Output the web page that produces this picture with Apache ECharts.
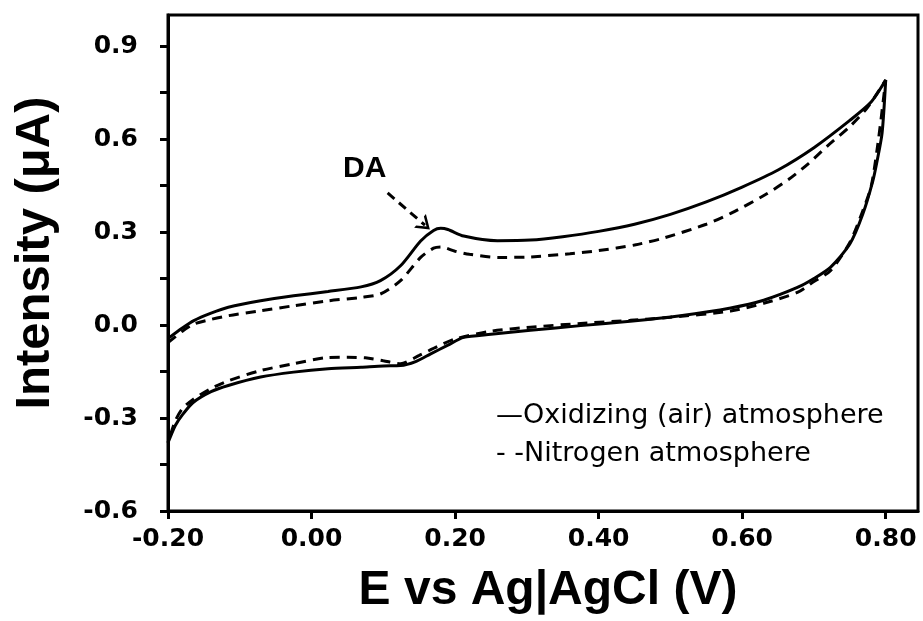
<!DOCTYPE html>
<html>
<head>
<meta charset="utf-8">
<script src="https://cdn.jsdelivr.net/npm/echarts@6/dist/echarts.min.js"></script>
<style>
html,body{margin:0;padding:0;background:#fff;}
#chart{width:923px;height:621px;}
</style>
</head>
<body>
<div id="chart"></div>
<script>
// Oxidizing (air) atmosphere: forward scan (-0.2 -> 0.8) then reverse scan (0.8 -> -0.2)
var airForwardX = [-0.2,-0.18,-0.164,-0.14,-0.116,-0.071,-0.025,0.023,0.069,0.096,0.124,0.152,0.170,0.180,0.19,0.212,0.259,0.305,0.35,0.40,0.45,0.50,0.55,0.60,0.65,0.70,0.75,0.78,0.80];
var airForwardY = [-0.044,-0.01,0.014,0.038,0.057,0.078,0.094,0.108,0.123,0.143,0.191,0.271,0.305,0.312,0.308,0.287,0.272,0.274,0.285,0.302,0.325,0.357,0.397,0.445,0.5,0.572,0.66,0.72,0.79];
var airReverseX = [0.795,0.788,0.782,0.768,0.750,0.723,0.70,0.677,0.63,0.584,0.514,0.444,0.375,0.305,0.25,0.212,0.19,0.166,0.145,0.124,0.10,0.069,0.023,-0.025,-0.071,-0.116,-0.14,-0.165,-0.18,-0.19,-0.2];
var airReverseY = [0.62,0.529,0.464,0.357,0.261,0.186,0.15,0.121,0.08,0.055,0.03,0.012,-0.002,-0.017,-0.03,-0.04,-0.065,-0.093,-0.118,-0.131,-0.132,-0.136,-0.141,-0.152,-0.168,-0.195,-0.215,-0.25,-0.29,-0.325,-0.38];

// Nitrogen atmosphere
var n2ForwardX = [-0.2,-0.18,-0.164,-0.14,-0.116,-0.071,-0.025,0.023,0.069,0.096,0.124,0.152,0.170,0.180,0.20,0.22,0.26,0.30,0.36,0.40,0.45,0.49,0.55,0.584,0.632,0.665,0.692,0.719,0.75,0.774,0.80];
var n2ForwardY = [-0.057,-0.02,0.003,0.018,0.03,0.046,0.062,0.078,0.089,0.10,0.143,0.218,0.248,0.252,0.238,0.228,0.218,0.219,0.23,0.24,0.258,0.28,0.325,0.36,0.42,0.47,0.52,0.578,0.64,0.70,0.79];
var n2ReverseX = [0.79,0.78,0.768,0.750,0.723,0.70,0.677,0.63,0.584,0.50,0.444,0.375,0.305,0.25,0.2,0.175,0.15,0.124,0.10,0.075,0.05,0.023,-0.025,-0.071,-0.116,-0.14,-0.165,-0.18,-0.19,-0.2];
var n2ReverseY = [0.6,0.45,0.368,0.266,0.175,0.14,0.105,0.07,0.045,0.025,0.015,0.005,-0.007,-0.02,-0.045,-0.07,-0.098,-0.125,-0.115,-0.106,-0.104,-0.105,-0.125,-0.147,-0.18,-0.205,-0.24,-0.27,-0.31,-0.38];

var seriesNames = ['Oxidizing (air) atmosphere', 'Nitrogen atmosphere'];
var legendLines = ['\u2014Oxidizing (air) atmosphere', '- -Nitrogen atmosphere'];
var xTickDecimals = 2;
var yTickDecimals = 1;
var annotationText = 'DA';
var annotationLabelPos = [0.074, 0.503];
var annotationArrow = [[0.106, 0.426], [0.158, 0.322]];

function pairs(xs, ys) {
  var out = [];
  for (var i = 0; i < xs.length; i++) out.push([xs[i], ys[i]]);
  return out;
}
var airData = pairs(airForwardX.concat(airReverseX), airForwardY.concat(airReverseY));
var n2Data = pairs(n2ForwardX.concat(n2ReverseX), n2ForwardY.concat(n2ReverseY));

var chart = echarts.init(document.getElementById('chart'), null, {renderer: 'canvas'});
var tickFont = {fontFamily: 'DejaVu Sans', fontWeight: 'bold', fontSize: 25, color: '#000'};

chart.setOption({
  animation: false,
  backgroundColor: '#fff',
  grid: {left: 168, right: 5, top: 15, bottom: 110, show: true, borderColor: '#000', borderWidth: 3, containLabel: false},
  xAxis: {
    type: 'value', min: -0.2, max: 0.845, interval: 0.2,
    name: 'E vs Ag|AgCl (V)', nameLocation: 'middle', nameGap: 56,
    nameTextStyle: {fontFamily: 'Liberation Sans', fontWeight: 'bold', fontSize: 48, color: '#000', padding: [0, 0, 0, 10]},
    axisLine: {show: true, onZero: false, lineStyle: {color: '#000', width: 3}},
    axisTick: {show: true, inside: false, length: 8, lineStyle: {color: '#000', width: 3}},
    axisLabel: Object.assign({margin: 16, showMaxLabel: false, formatter: function (v) { return v.toFixed(xTickDecimals); }}, tickFont),
    splitLine: {show: false}
  },
  yAxis: {
    type: 'value', min: -0.6, max: 1.0, interval: 0.15,
    name: 'Intensity (\u03bcA)', nameLocation: 'middle', nameGap: 108,
    nameTextStyle: {fontFamily: 'Liberation Sans', fontWeight: 'bold', fontSize: 49, color: '#000', padding: [0, 0, 0, 20]},
    axisLine: {show: true, onZero: false, lineStyle: {color: '#000', width: 3}},
    axisTick: {show: true, inside: false, length: 8, lineStyle: {color: '#000', width: 3}},
    axisLabel: Object.assign({margin: 30, showMaxLabel: false, formatter: function (v) {
      var k = v / 0.3;
      if (Math.abs(k - Math.round(k)) < 1e-6 && v < 0.95) return v.toFixed(yTickDecimals);
      return '';
    }}, tickFont),
    splitLine: {show: false}
  },
  series: [
    {
      name: seriesNames[0], type: 'line', data: airData, showSymbol: false, smooth: 0.25,
      lineStyle: {color: '#000', width: 3, type: 'solid'},
      markPoint: {
        symbol: 'circle', symbolSize: 1,
        itemStyle: {color: 'rgba(0,0,0,0)'},
        data: [{coord: annotationLabelPos, value: annotationText}],
        label: {show: true, formatter: annotationText, fontFamily: 'Liberation Sans', fontWeight: 'bold', fontSize: 30, color: '#000', position: 'inside'}
      },
      markLine: {
        silent: true,
        symbol: ['none', 'path://M0,10 L5,0 L10,10 L8.3,10 L5,3.4 L1.7,10 Z'],
        symbolSize: [18, 13],
        label: {show: false},
        lineStyle: {color: '#000', width: 3, type: [9, 6]},
        data: [[{coord: annotationArrow[0]}, {coord: annotationArrow[1]}]]
      }
    },
    {
      name: seriesNames[1], type: 'line', data: n2Data, showSymbol: false, smooth: 0.25,
      lineStyle: {color: '#000', width: 3, type: [10, 7]}
    }
  ],
  graphic: [
    {type: 'text', left: 496, top: 402, style: {text: legendLines[0], fontFamily: 'DejaVu Sans', fontSize: 27, fill: '#000'}},
    {type: 'text', left: 496, top: 440, style: {text: legendLines[1], fontFamily: 'DejaVu Sans', fontSize: 27, fill: '#000'}}
  ]
});
</script>
</body>
</html>
